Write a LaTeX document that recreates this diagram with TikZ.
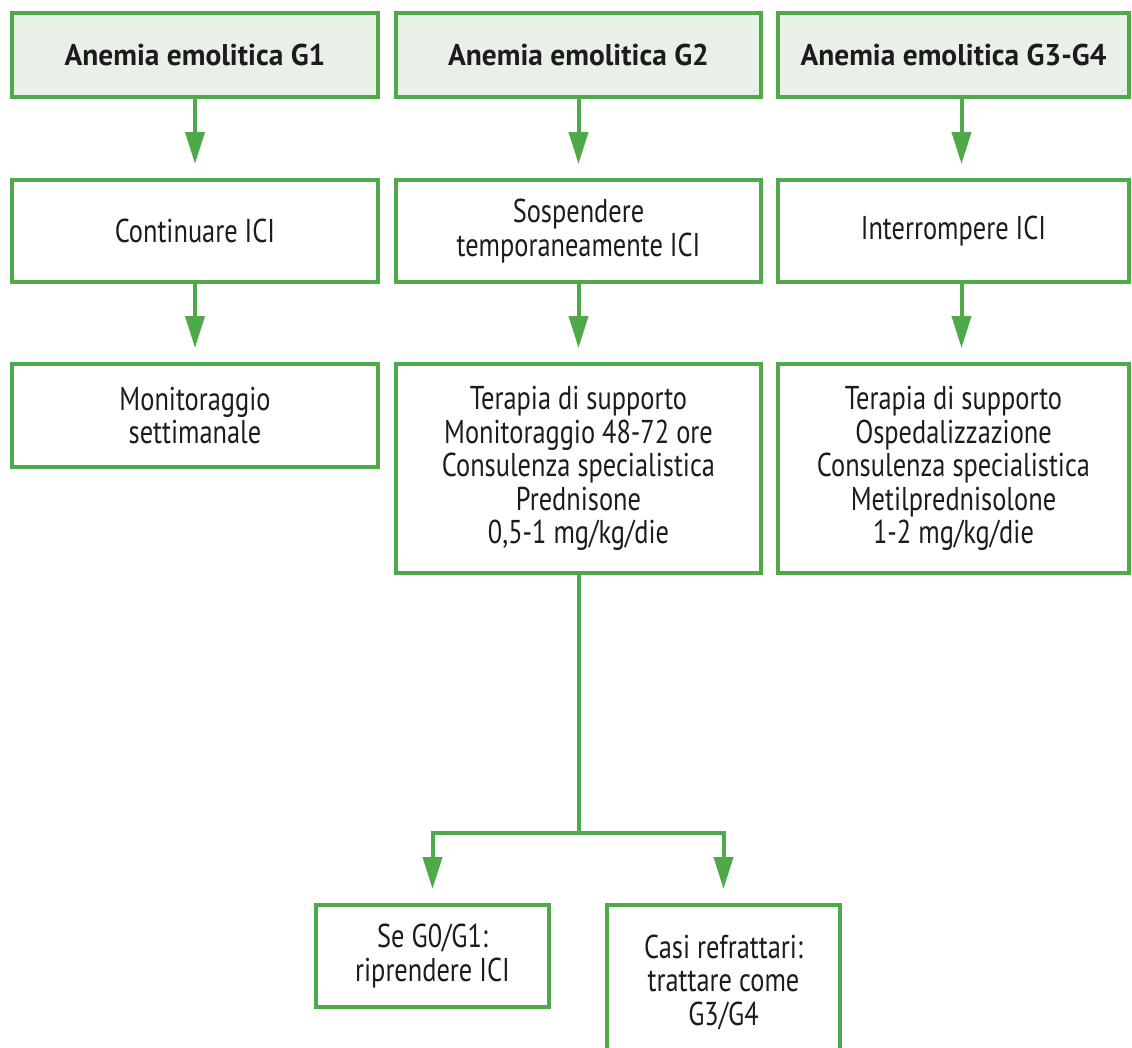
\documentclass[tikz,border=0pt]{standalone}
\usepackage{fontspec}
\setmainfont{PT Sans}[FakeStretch=0.80]
\newfontfamily\headfont{PT Sans}[FakeStretch=0.98]
\usetikzlibrary{arrows.meta}

\definecolor{grn}{RGB}{78,170,72}
\definecolor{hdfill}{RGB}{232,240,231}
\definecolor{ink}{RGB}{28,28,28}

\begin{document}
\begin{tikzpicture}[x=1pt,y=-1pt,
  box/.style={draw=grn, line width=4pt, fill=white, align=center,
    inner sep=0pt, text=ink, font=\fontsize{33}{33.5}\selectfont},
  headbox/.style={box, fill=hdfill, font=\headfont\fontsize{30}{33}\selectfont\bfseries},
  conn/.style={draw=grn, line width=4pt},
  arr/.style={conn, -{Triangle[length=32pt,width=19pt]}, shorten >=14pt}
]
\useasboundingbox (0,0) rectangle (1132,1047);
\clip (0,0) rectangle (1132,1047);

% header row
\node[headbox, minimum width=366pt, minimum height=84pt] (h1) at (195,55) {Anemia emolitica G1};
\node[headbox, minimum width=365pt, minimum height=84pt] (h2) at (578.5,55) {Anemia emolitica G2};
\node[headbox, minimum width=351pt, minimum height=84pt] (h3) at (953.5,55) {Anemia emolitica G3-G4};

% ICI decision row
\node[box, minimum width=366pt, minimum height=102pt] (a1) at (195,231) {Continuare ICI};
\node[box, minimum width=365pt, minimum height=102pt] (a2) at (578.5,231) {Sospendere\\temporaneamente ICI};
\node[box, minimum width=351pt, minimum height=102pt] (a3) at (953.5,231) {Interrompere ICI};

% management row
\node[box, minimum width=366pt, minimum height=103pt] (b1) at (195,415.5) {Monitoraggio\\settimanale};
\node[box, minimum width=365pt, minimum height=209pt] (b2) at (578.5,468.5)
  {Terapia di supporto\\Monitoraggio 48-72 ore\\Consulenza specialistica\\Prednisone\\0,5-1 mg/kg/die};
\node[box, minimum width=351pt, minimum height=209pt] (b3) at (953.5,468.5)
  {Terapia di supporto\\Ospedalizzazione\\Consulenza specialistica\\Metilprednisolone\\1-2 mg/kg/die};

% outcome row
\node[box, minimum width=233pt, minimum height=102pt] (c1) at (432.5,956) {Se G0/G1:\\riprendere ICI};
\node[box, minimum width=233pt, minimum height=155pt] (c2) at (723.5,982.5) {Casi refrattari:\\trattare come\\G3/G4};

% vertical arrows
\draw[arr] (h1.south) -- (a1.north);
\draw[arr] (h2.south) -- (a2.north);
\draw[arr] ([xshift=8pt]h3.south) -- ([xshift=8pt]a3.north);
\draw[arr] (a1.south) -- (b1.north);
\draw[arr] (a2.south) -- (b2.north);
\draw[arr] ([xshift=8pt]a3.south) -- ([xshift=8pt]b3.north);

% fork below the G2 management box
\coordinate (fork) at (b2.south |- 0,833);
\draw[conn] (b2.south) -- (fork);
\draw[arr] (fork) -| (c1.north);
\draw[arr] (fork) -| (c2.north);
\end{tikzpicture}
\end{document}
